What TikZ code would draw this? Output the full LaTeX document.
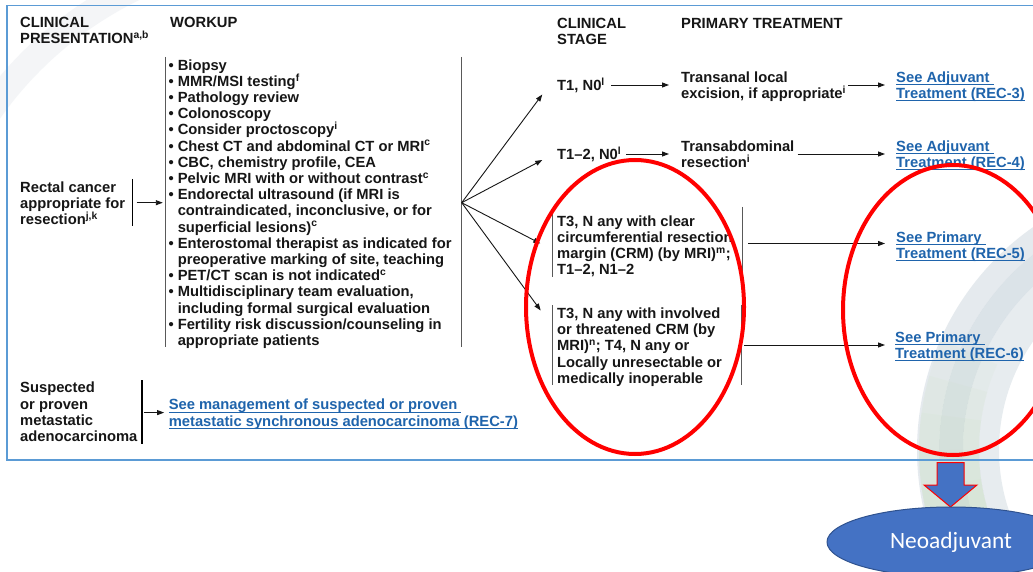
\documentclass[tikz,border=0pt]{standalone}
\usepackage{fontspec}
\setmainfont{Liberation Sans}
\newfontfamily\neofont{Carlito}
\usetikzlibrary{arrows.meta,shapes.geometric}

\definecolor{ink}{RGB}{22,22,22}
\definecolor{linkblue}{RGB}{31,100,172}
\definecolor{frameblue}{RGB}{91,155,213}
\definecolor{ovalblue}{RGB}{68,114,196}
\definecolor{ovaledge}{RGB}{47,82,143}
\definecolor{swoopgrey}{RGB}{205,214,222}
\definecolor{swoopmid}{RGB}{190,204,214}
\definecolor{swooplight}{RGB}{226,232,236}
\definecolor{swoopgreen}{RGB}{196,222,184}

% continuation lines of a bullet item line up after "• "
\newcommand{\wkgap}{\phantom{• }}
% underlined hyperlink-style text
\newsavebox{\lnkbox}
\newcommand{\lnkline}[1]{\sbox{\lnkbox}{#1}\rlap{\usebox{\lnkbox}}\rule[-3pt]{\wd\lnkbox}{1.1pt}}

\begin{document}
\begin{tikzpicture}[x=1pt,y=-1pt,
  txt/.style={inner sep=0pt, text=ink, align=left,
    font=\fontsize{14.75}{16.2}\selectfont\bfseries},
  oneline/.style={txt, text height=10.6pt, text depth=0pt},
  lnk/.style={txt, text=linkblue},
  arr/.style={draw=ink, line width=0.9pt, -{Triangle[length=7pt,width=5pt]}},
  bar/.style={draw=black!65, line width=1.1pt},
  ring/.style={draw=red, line width=4pt},
  swoop/.style={line width=#1, line cap=butt}
]
\useasboundingbox (0,0) rectangle (1033,572);
\fill[white] (0,0) rectangle (1033,572);
\clip (0,0) rectangle (1033,572);

% faint background swooshes of the slide
\draw[swoop=26, swoopgrey, opacity=0.22] (300,330) ++(205:380) arc[start angle=205, end angle=250, radius=380];
\draw[swoop=36, swooplight, opacity=0.8] (1189,450) ++(148:208) arc[start angle=148, end angle=245, radius=208];
\draw[swoop=24, swoopmid, opacity=0.55] (1189,450) ++(148:238) arc[start angle=148, end angle=245, radius=238];
\draw[swoop=22, swoopgrey, opacity=0.5] (1189,450) ++(148:261) arc[start angle=148, end angle=245, radius=261];
% green tint fading out along the lower part of the swoosh
\foreach \e in {172,180,188,196,204}
  \draw[swoop=60, swoopgreen, opacity=0.09] (1189,450) ++(148:240) arc[start angle=148, end angle=\e, radius=240];

% frame of the algorithm page
\draw[frameblue, line width=1.6pt] (7,5.5) rectangle (1045,460);

% column headings
\node[txt, anchor=north west] (hcp) at (20,17.3) {CLINICAL\\PRESENTATION\textsuperscript{a,b}};
\node[txt, anchor=north west] (hwk) at (170,17.3) {WORKUP};
\node[txt, anchor=north west] (hcs) at (557,18) {CLINICAL\\STAGE};
\node[txt, anchor=north west] (hpt) at (681,18) {PRIMARY TREATMENT};

% presentation
\node[txt, anchor=north west] (rectal) at (20,181.2) {Rectal cancer\\appropriate for\\resection\textsuperscript{j,k}};
\node[txt, anchor=north west] (susp) at (20,382) {Suspected\\or proven\\metastatic\\adenocarcinoma};

% workup list
\node[txt, anchor=north west] (workup) at (168.3,59.2) {%
• Biopsy\\
• MMR/MSI testing\textsuperscript{f}\\
• Pathology review\\
• Colonoscopy\\
• Consider proctoscopy\textsuperscript{i}\\
• Chest CT and abdominal CT or MRI\textsuperscript{c}\\
• CBC, chemistry profile, CEA\\
• Pelvic MRI with or without contrast\textsuperscript{c}\\
• Endorectal ultrasound (if MRI is\\
\wkgap contraindicated, inconclusive, or for\\
\wkgap superficial lesions)\textsuperscript{c}\\
• Enterostomal therapist as indicated for\\
\wkgap preoperative marking of site, teaching\\
• PET/CT scan is not indicated\textsuperscript{c}\\
• Multidisciplinary team evaluation,\\
\wkgap including formal surgical evaluation\\
• Fertility risk discussion/counseling in\\
\wkgap appropriate patients};

% clinical stages
\node[oneline, anchor=west] (t1n0) at (557,85) {T1, N0\textsuperscript{l}};
\node[oneline, anchor=west] (t12n0) at (557,154) {T1–2, N0\textsuperscript{l}};
\node[txt, anchor=north west] (t3clear) at (557,215.2) {T3, N any with clear\\circumferential resection\\margin (CRM) (by MRI)\textsuperscript{m};\\T1–2, N1–2};
\node[txt, anchor=north west] (t3inv) at (557,307.7) {T3, N any with involved\\or threatened CRM (by\\MRI)\textsuperscript{n}; T4, N any or\\Locally unresectable or\\medically inoperable};

% primary treatment
\node[txt, anchor=north west] (transanal) at (681,71.4) {Transanal local\\excision, if appropriate\textsuperscript{i}};
\node[txt, anchor=north west] (transabd) at (681,140.4) {Transabdominal\\resection\textsuperscript{i}};

% cross references
\node[lnk, anchor=north west] (adj3) at (896,71.4) {\lnkline{See Adjuvant }\\\lnkline{Treatment (REC-3)}};
\node[lnk, anchor=north west] (adj4) at (896,140.4) {\lnkline{See Adjuvant }\\\lnkline{Treatment (REC-4)}};
\node[lnk, anchor=north west] (prim5) at (896,231.4) {\lnkline{See Primary }\\\lnkline{Treatment (REC-5)}};
\node[lnk, anchor=north west] (prim6) at (895,331.4) {\lnkline{See Primary }\\\lnkline{Treatment (REC-6)}};
\node[lnk, anchor=north west] (rec7) at (168.6,399) {\lnkline{See management of suspected or proven }\\\lnkline{metastatic synchronous adenocarcinoma (REC-7)}};

% bracket bars
\draw[draw=black, line width=1.1pt] (132.7,179) -- (132.7,226);
\draw[draw=black, line width=1.1pt] (142,380) -- (142,444);
\draw[bar] (165.5,57) -- (165.5,347);
\draw[bar] (461.5,57) -- (461.5,347);
\draw[bar] (552.5,213) -- (552.5,277);
\draw[bar] (742.5,207) -- (742.5,277);
\draw[bar] (552.5,305) -- (552.5,385);
\draw[bar] (741.5,305) -- (741.5,385);

% connector end points
\coordinate (rectalR) at (136.7,202.7);
\coordinate (suspR) at (143.8,412.6);
\coordinate (fan) at (461.7,202.7);
\coordinate (tipA) at (542.3,94.5);
\coordinate (tipB) at (542.3,160);
\coordinate (tipC) at (540.3,243.5);
\coordinate (tipD) at (540.7,310.5);
\coordinate (t3cR) at (742.5,243.5);
\coordinate (t3iR) at (741.5,345);

% connectors
\draw[arr, shorten >=5.5pt] (rectalR) -- (rectalR -| workup.west);
\draw[arr, shorten >=4.5pt] (suspR) -- (suspR -| rec7.west);
\draw[arr] (fan) -- (tipA);
\draw[arr] (fan) -- (tipB);
\draw[arr] (fan) -- (tipC);
\draw[arr] (fan) -- (tipD);
\draw[arr, shorten <=6pt, shorten >=12pt] (t1n0.east) -- (t1n0.east -| transanal.west);
\draw[arr, shorten <=2pt, shorten >=11pt] (t1n0.east -| transanal.east) -- (t1n0.east -| adj3.west);
\draw[arr, shorten <=5pt, shorten >=12pt] (t12n0.east) -- (t12n0.east -| transabd.west);
\draw[arr, shorten <=3pt, shorten >=11pt] (t12n0.east -| transabd.east) -- (t12n0.east -| adj4.west);
\draw[arr, shorten <=5.5pt, shorten >=11pt] (t3cR) -- (t3cR -| prim5.west);
\draw[arr, shorten <=2.5pt, shorten >=10pt] (t3iR) -- (t3iR -| prim6.west);

% highlight rings
\draw[ring] (635,307) ellipse[x radius=109, y radius=147];
\draw[ring] (953,310) ellipse[x radius=110, y radius=145];

% block arrow and result oval
\filldraw[fill=ovalblue, draw=red, line width=1pt]
  (937,462.5) -- (964,462.5) -- (964,485) -- (977,485) -- (950.5,507)
  -- (924,485) -- (937,485) -- cycle;
\node[ellipse, fill=ovalblue, draw=ovaledge, line width=1pt, inner sep=0pt,
  minimum width=248, minimum height=70, text=white,
  font=\neofont\fontsize{23.4}{28}\selectfont] (neo) at (951,542) {Neoadjuvant};
\end{tikzpicture}
\end{document}
